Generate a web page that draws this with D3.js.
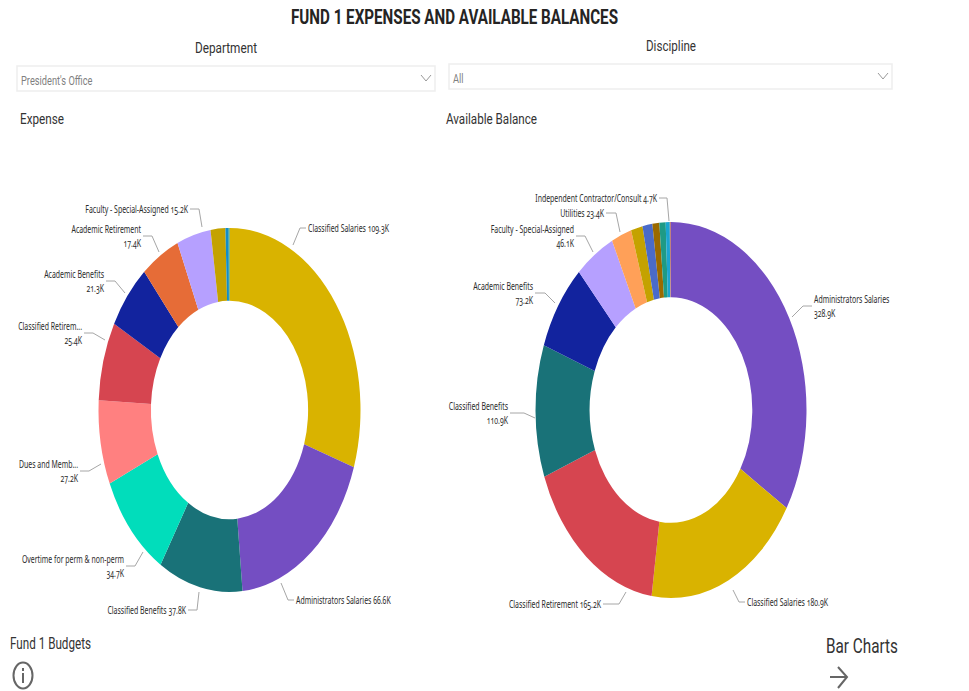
<!DOCTYPE html>
<html>
<head>
<meta charset="utf-8">
<script src="https://cdn.jsdelivr.net/npm/d3@7"></script>
<style>
  html, body { margin:0; padding:0; background:#fff; }
  svg { display:block; }
  text { font-family:Roboto, sans-serif; fill:#333; }
  .lbl { font-family:"Noto Sans", sans-serif; font-size:11px; fill:#2b2b2b; font-feature-settings:"onum"; }
</style>
</head>
<body>
<svg id="page" width="969" height="691"></svg>
<script>
// expense donut
var expenseNames = ["Classified Salaries", "Administrators Salaries", "Classified Benefits", "Overtime for perm & non-perm", "Dues and Memb...", "Classified Retirem...", "Academic Benefits", "Academic Retirement", "Faculty - Special-Assigned", "", "", ""]
var expenseValues = [109.3, 66.6, 37.8, 34.7, 27.2, 25.4, 21.3, 17.4, 15.2, 6.6, 1.4, 0.4]
var expenseColors = ["#D9B300", "#744EC2", "#197278", "#01DDBB", "#FF8080", "#D64550", "#12239E", "#E66C37", "#B6A0FF", "#C4A200", "#118DC8", "#1F9A85"]

// available balance donut
var balanceNames = ["Administrators Salaries", "Classified Salaries", "Classified Retirement", "Classified Benefits", "Academic Benefits", "Faculty - Special-Assigned", "Utilities", "", "", "", "", "Independent Contractor/Consult", ""]
var balanceValues = [328.9, 180.9, 165.2, 110.9, 73.2, 46.1, 23.4, 13.5, 11.5, 8, 7.3, 4.7, 1.4]
var balanceColors = ["#744EC2", "#D9B300", "#D64550", "#197278", "#12239E", "#B6A0FF", "#FFA058", "#C4A200", "#4A6BC9", "#9B6A00", "#1F9A85", "#1AA5D0", "#C08080"]

// leader lines, one per labelled slice: start, elbow, end, then whether the value wraps
var expenseLeaders = [
  [293,245, 300,228, 306,228, 0], [281,583, 288,600, 294,600, 0], [199,592, 197,610, 188,610, 0],
  [143,552, 135,566, 126,566, 1], [101,464, 89,471, 80,471, 1], [105,340, 93,333, 84,333, 1],
  [125,293, 115,281, 106,281, 1], [159,252, 152,236, 143,236, 1], [202,227, 199,209, 190,209, 0]
]
var balanceLeaders = [
  [792,317, 803,306, 812,306, 1], [733,590, 739,602, 745,602, 0], [626,592, 619,604, 603,604, 0],
  [535,418, 524,413, 510,413, 1], [555,303, 545,293, 535,293, 1], [593,252, 585,236, 576,236, 1],
  [620,232, 616,213, 606,213, 0], null, null, null, null, [669,221, 667,198, 659,198, 0]
]

var svg = d3.select("#page")
var fmt = v => d3.format(".1f")(v) + "K"

// squeeze a text to the narrow look of the original
function squeeze(sel, k) {
  sel.each(function() {
    var w = this.getComputedTextLength()
    d3.select(this).attr("textLength", w * k).attr("lengthAdjust", "spacingAndGlyphs")
  })
  return sel
}

function head(str, x, y, size, width, anchor, weight, color) {
  svg.append("text").text(str).attr("x", x).attr("y", y)
    .attr("font-size", size).attr("text-anchor", anchor || "start")
    .attr("font-weight", weight || 400).style("fill", color || "#333")
    .attr("textLength", width).attr("lengthAdjust", "spacingAndGlyphs")
}

function donut(names, values, colors, leaders, cx, cy, rx, ry) {
  var pie = d3.pie().sort(null).value(d => d)
  var arc = d3.arc().innerRadius(60).outerRadius(100)
  var g = svg.append("g").attr("transform", `translate(${cx},${cy}) scale(${rx / 100},${ry / 100})`)
  g.selectAll("path").data(pie(values)).enter().append("path")
    .attr("d", arc).attr("fill", (d, i) => colors[i])

  leaders.forEach((l, i) => {
    if (!l) return
    svg.append("polyline").attr("points", l.slice(0, 6).join(" "))
      .attr("fill", "none").attr("stroke", "#a6a6a6").attr("stroke-width", 1)
    var right = l[4] > l[2]
    var tx = l[4] + (right ? 2 : -2)
    var anchor = right ? "start" : "end"
    var k = .63
    if (l[6]) {
      squeeze(svg.append("text").attr("class", "lbl").text(names[i]).attr("x", tx).attr("y", l[5] - 3).attr("text-anchor", anchor), k)
      squeeze(svg.append("text").attr("class", "lbl").text(fmt(values[i])).attr("x", tx).attr("y", l[5] + 10.5).attr("text-anchor", anchor), k)
    } else {
      squeeze(svg.append("text").attr("class", "lbl").text(names[i] + " " + fmt(values[i])).attr("x", tx).attr("y", l[5] + 4).attr("text-anchor", anchor), k)
    }
  })
}

// title and slicers
head("FUND 1 EXPENSES AND AVAILABLE BALANCES", 291, 24, 20, 327, "start", 700, "#252423")
head("Department", 195, 53, 15.5, 62)
head("Discipline", 646, 51, 15.5, 50)

function slicer(x, y, w, h, txt) {
  svg.append("rect").attr("x", x).attr("y", y).attr("width", w).attr("height", h)
    .attr("fill", "#fff").attr("stroke", "#eeeeee").attr("stroke-width", 1.5)
  var t = svg.append("text").text(txt).attr("x", x + 4).attr("y", y + 19).attr("font-size", 12.5).style("fill", "#7f7f7f")
  squeeze(t, .74)
  var m = x + w - 9
  svg.append("path").attr("d", `M${m - 5},${y + 9}L${m},${y + 15}L${m + 5},${y + 9}`)
    .attr("fill", "none").attr("stroke", "#999").attr("stroke-width", 1)
}
slicer(17, 66, 418, 25, "President's Office")
slicer(449, 64, 443, 25, "All")

head("Expense", 20, 124, 15.5, 44)
head("Available Balance", 446, 124, 15.5, 91)

donut(expenseNames, expenseValues, expenseColors, expenseLeaders, 229.5, 410, 131, 182)
donut(balanceNames, balanceValues, balanceColors, balanceLeaders, 671, 410, 135.5, 188)

// bottom navigation
head("Fund 1 Budgets", 10, 649, 16, 81)
head("Bar Charts", 826, 653, 21, 72)
svg.append("ellipse").attr("cx", 23).attr("cy", 675.5).attr("rx", 9.5).attr("ry", 13)
  .attr("fill", "none").attr("stroke", "#666").attr("stroke-width", 2)
svg.append("rect").attr("x", 22).attr("y", 673).attr("width", 2).attr("height", 10).attr("fill", "#666")
svg.append("rect").attr("x", 22).attr("y", 668).attr("width", 2).attr("height", 3).attr("fill", "#666")
svg.append("path").attr("d", "M830,677H847M838,667L847,677L838,688")
  .attr("fill", "none").attr("stroke", "#666").attr("stroke-width", 2)
</script>
</body>
</html>
